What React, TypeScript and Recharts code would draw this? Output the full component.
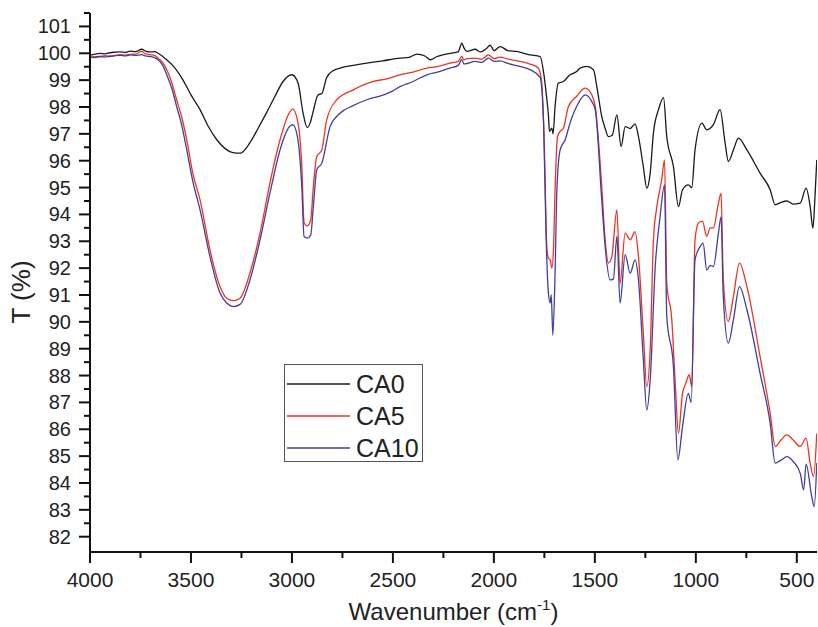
import { LineChart, Line, XAxis, YAxis, Legend, Label } from 'recharts';

// [wavenumber cm-1, transmittance %]
const ca0: [number, number][] = [
  [4000, 99.93], [3975, 99.97], [3950, 100.0], [3925, 99.98], [3901, 100.02], [3875, 100.04],
  [3851, 100.05], [3825, 100.03], [3802, 100.08], [3775, 100.06], [3744, 100.15], [3725, 100.08],
  [3703, 100.05], [3680, 100.06], [3663, 100.0], [3620, 99.76], [3579, 99.45], [3539, 99.0],
  [3500, 98.45], [3455, 97.9], [3416, 97.3], [3372, 96.78], [3331, 96.45], [3292, 96.3],
  [3257, 96.28], [3208, 96.67], [3168, 97.2], [3125, 97.8], [3084, 98.4], [3044, 98.95],
  [3001, 99.2], [2970, 98.9], [2945, 97.78], [2925, 97.24], [2910, 97.4], [2896, 97.8],
  [2871, 98.45], [2852, 98.5], [2828, 99.1], [2796, 99.35], [2762, 99.45], [2697, 99.55],
  [2630, 99.63], [2549, 99.72], [2465, 99.82], [2420, 99.85], [2382, 99.97], [2341, 99.9],
  [2316, 99.76], [2281, 99.88], [2217, 100.0], [2177, 100.05], [2159, 100.38], [2148, 100.2],
  [2134, 100.07], [2093, 100.15], [2068, 100.05], [2035, 100.19], [2019, 100.3], [1999, 100.1],
  [1969, 100.25], [1930, 100.1], [1887, 100.07], [1821, 99.94], [1771, 99.88], [1751, 99.14],
  [1738, 98.3], [1730, 97.7], [1725, 97.09], [1713, 97.21], [1707, 97.0], [1697, 98.02],
  [1681, 98.89], [1656, 98.95], [1623, 99.2], [1590, 99.32], [1573, 99.45], [1540, 99.51],
  [1507, 99.39], [1489, 98.7], [1466, 97.65], [1449, 97.2], [1433, 96.9], [1414, 96.95],
  [1391, 97.71], [1370, 96.53], [1350, 97.27], [1325, 97.2], [1301, 97.37], [1284, 96.9],
  [1260, 95.78], [1243, 94.98], [1226, 95.54], [1210, 97.03], [1185, 97.9], [1160, 98.35],
  [1144, 96.9], [1111, 95.78], [1086, 94.29], [1066, 94.92], [1037, 95.1], [1020, 95.0],
  [1004, 96.4], [970, 97.4], [946, 97.15], [913, 97.34], [880, 97.9], [855, 96.66],
  [839, 95.97], [814, 96.4], [789, 96.84], [747, 96.4], [682, 95.54], [632, 94.92],
  [607, 94.36], [578, 94.45], [549, 94.5], [518, 94.38], [483, 94.42], [454, 94.98],
  [434, 94.3], [420, 93.49], [411, 94.5], [401, 96.03],
];

const ca5: [number, number][] = [
  [4000, 99.86], [3975, 99.84], [3950, 99.88], [3925, 99.86], [3901, 99.9], [3875, 99.92],
  [3851, 99.95], [3825, 99.93], [3800, 99.96], [3775, 99.97], [3744, 100.07], [3725, 99.98],
  [3703, 99.95], [3680, 99.92], [3663, 99.82], [3640, 99.65], [3620, 99.39], [3595, 98.9],
  [3571, 98.27], [3545, 97.6], [3521, 96.78], [3490, 95.5], [3455, 94.54], [3406, 92.68],
  [3356, 91.31], [3323, 90.88], [3290, 90.79], [3257, 90.88], [3208, 91.82], [3158, 93.3],
  [3109, 95.17], [3059, 96.78], [3018, 97.71], [2996, 97.92], [2973, 97.52], [2951, 95.78],
  [2940, 93.69], [2924, 93.57], [2907, 93.8], [2894, 95.04], [2877, 96.16], [2852, 96.4],
  [2828, 97.52], [2778, 98.27], [2696, 98.64], [2597, 98.95], [2530, 99.05], [2465, 99.2],
  [2400, 99.3], [2332, 99.45], [2280, 99.5], [2217, 99.63], [2177, 99.7], [2159, 99.88],
  [2148, 99.75], [2134, 99.8], [2093, 99.82], [2060, 99.78], [2027, 99.94], [1999, 99.8],
  [1969, 99.86], [1930, 99.78], [1871, 99.7], [1821, 99.6], [1780, 99.45], [1763, 98.89],
  [1751, 96.78], [1738, 92.8], [1730, 92.37], [1721, 92.31], [1713, 92.0], [1705, 92.68],
  [1697, 94.92], [1685, 96.9], [1672, 97.09], [1656, 97.2], [1631, 98.02], [1590, 98.4],
  [1548, 98.7], [1515, 98.45], [1498, 98.02], [1466, 95.04], [1449, 93.05], [1433, 92.19],
  [1416, 92.43], [1391, 94.17], [1375, 91.44], [1350, 93.3], [1325, 93.05], [1301, 93.36],
  [1284, 92.43], [1260, 89.58], [1243, 87.59], [1226, 88.96], [1210, 93.05], [1193, 94.29],
  [1169, 95.29], [1155, 96.03], [1144, 91.44], [1119, 90.07], [1102, 87.72], [1086, 85.85],
  [1066, 87.34], [1049, 87.72], [1033, 88.03], [1020, 87.59], [1004, 93.05], [987, 93.68],
  [967, 93.74], [946, 93.18], [929, 93.5], [913, 93.5], [888, 94.42], [875, 94.79],
  [864, 91.56], [839, 90.01], [814, 90.94], [784, 92.19], [747, 91.31], [682, 88.71],
  [632, 86.6], [607, 85.36], [578, 85.6], [549, 85.79], [518, 85.6], [483, 85.36],
  [454, 85.67], [434, 84.74], [417, 84.24], [401, 85.85],
];

const ca10: [number, number][] = [
  [4000, 99.86], [3975, 99.87], [3950, 99.88], [3925, 99.9], [3901, 99.88], [3875, 99.91],
  [3851, 99.92], [3825, 99.9], [3800, 99.94], [3775, 99.92], [3744, 99.95], [3725, 99.9],
  [3703, 99.88], [3680, 99.84], [3663, 99.76], [3640, 99.55], [3620, 99.2], [3595, 98.7],
  [3571, 98.02], [3545, 97.3], [3521, 96.4], [3490, 95.2], [3455, 94.17], [3406, 92.43],
  [3356, 91.07], [3323, 90.7], [3290, 90.57], [3257, 90.65], [3208, 91.56], [3158, 93.05],
  [3109, 94.79], [3059, 96.4], [3018, 97.21], [2996, 97.34], [2973, 96.9], [2951, 95.0],
  [2940, 93.18], [2924, 93.12], [2907, 93.24], [2894, 94.29], [2877, 95.66], [2852, 95.91],
  [2811, 97.27], [2762, 97.77], [2697, 98.05], [2630, 98.27], [2547, 98.45], [2500, 98.6],
  [2465, 98.76], [2400, 98.95], [2332, 99.2], [2280, 99.3], [2217, 99.45], [2177, 99.55],
  [2159, 99.76], [2148, 99.6], [2134, 99.62], [2093, 99.7], [2060, 99.66], [2027, 99.82],
  [1999, 99.7], [1969, 99.72], [1930, 99.62], [1871, 99.51], [1821, 99.39], [1771, 99.1],
  [1754, 97.4], [1741, 93.05], [1730, 91.07], [1721, 90.7], [1716, 91.0], [1708, 89.5],
  [1697, 91.81], [1688, 94.92], [1672, 96.4], [1647, 96.78], [1623, 97.4], [1582, 98.14],
  [1548, 98.45], [1515, 98.2], [1498, 97.9], [1466, 94.54], [1449, 92.8], [1424, 91.56],
  [1408, 91.6], [1391, 93.18], [1375, 90.7], [1350, 92.5], [1325, 91.81], [1301, 92.31],
  [1284, 91.56], [1260, 88.59], [1243, 86.72], [1226, 87.84], [1201, 92.06], [1177, 93.92],
  [1155, 95.1], [1144, 90.2], [1111, 88.34], [1089, 84.86], [1066, 86.1], [1037, 87.34],
  [1023, 87.0], [1004, 92.31], [979, 92.8], [964, 92.93], [946, 91.93], [929, 92.1],
  [913, 92.06], [888, 93.3], [875, 93.92], [864, 90.94], [839, 89.21], [814, 90.07],
  [784, 91.31], [747, 90.45], [682, 88.09], [632, 86.23], [607, 84.74], [578, 84.85],
  [549, 84.98], [518, 84.8], [483, 84.36], [466, 83.74], [454, 84.7], [426, 83.49],
  [414, 83.12], [401, 84.74],
];

const xTicks = [4000, 3750, 3500, 3250, 3000, 2750, 2500, 2250, 2000, 1750, 1500, 1250, 1000, 750, 500];
const yTicks = [
  82, 82.5, 83, 83.5, 84, 84.5, 85, 85.5, 86, 86.5, 87, 87.5, 88, 88.5, 89, 89.5, 90, 90.5,
  91, 91.5, 92, 92.5, 93, 93.5, 94, 94.5, 95, 95.5, 96, 96.5, 97, 97.5, 98, 98.5, 99, 99.5,
  100, 100.5, 101, 101.5,
];

const series = [
  { name: 'CA0', points: ca0, color: '#1a1a1a' },
  { name: 'CA5', points: ca5, color: '#ee3322' },
  { name: 'CA10', points: ca10, color: '#3f3f9e' },
];

const FONT = '"Liberation Sans", Arial, sans-serif';
const INK = '#222';

function YTick(props: any) {
  const { x, y, payload } = props;
  const major = payload.value % 1 === 0;
  return (
    <g>
      <line x1={x} x2={x - (major ? 11 : 6)} y1={y} y2={y} stroke="#111" strokeWidth={2} />
      {major && (
        <text x={x - 19} y={y + 7} textAnchor="end" fontSize={20} fontFamily={FONT} fill={INK}>
          {payload.value}
        </text>
      )}
    </g>
  );
}

function XTick(props: any) {
  const { x, y, payload } = props;
  const major = payload.value % 500 === 0;
  return (
    <g>
      <line x1={x} x2={x} y1={y} y2={y + (major ? 11 : 6)} stroke="#111" strokeWidth={2} />
      {major && (
        <text x={x} y={y + 35} textAnchor="middle" fontSize={21} fontFamily={FONT} fill={INK}>
          {payload.value}
        </text>
      )}
    </g>
  );
}

function LegendBox() {
  return (
    <div
      style={{
        position: 'relative',
        width: 139,
        height: 98,
        boxSizing: 'border-box',
        border: '1.5px solid #555',
        background: '#fff',
        fontFamily: FONT,
        fontSize: 25,
        color: INK,
      }}
    >
      {series.map((s, i) => (
        <div key={s.name} style={{ position: 'absolute', left: 0, top: 4 + i * 32, height: 30, width: 137 }}>
          <svg width={66} height={30} style={{ position: 'absolute', left: 0, top: 0 }}>
            <line x1={2} x2={65} y1={15} y2={15} stroke={s.color} strokeWidth={1.5} />
          </svg>
          <span style={{ position: 'absolute', left: 71, top: 0, lineHeight: '30px' }}>{s.name}</span>
        </div>
      ))}
    </div>
  );
}

export default function App() {
  return (
    <div style={{ position: 'absolute', left: 0, top: 0, background: '#fff' }}>
      <LineChart width={818} height={627} margin={{ top: 13, right: 1, bottom: 15, left: 10 }}>
        <XAxis
          type="number"
          dataKey="w"
          domain={[400, 4000]}
          reversed
          allowDataOverflow
          ticks={xTicks}
          interval={0}
          tick={(p: any) => <XTick {...p} />}
          tickLine={false}
          tickSize={0}
          tickMargin={0}
          height={60}
          axisLine={{ stroke: '#111', strokeWidth: 2 }}
        >
          <Label
            content={(p: any) => {
              const vb = p.viewBox;
              return (
                <text
                  x={vb.x + vb.width / 2}
                  y={620}
                  textAnchor="middle"
                  fontSize={24}
                  fontFamily={FONT}
                  fill={INK}
                >
                  Wavenumber (cm
                  <tspan fontSize={15} dy={-10}>-1</tspan>
                  <tspan dy={10}>)</tspan>
                </text>
              );
            }}
          />
        </XAxis>
        <YAxis
          type="number"
          domain={[81.43, 101.5]}
          allowDataOverflow
          ticks={yTicks}
          interval={0}
          tick={(p: any) => <YTick {...p} />}
          tickLine={false}
          tickSize={0}
          tickMargin={0}
          width={80}
          axisLine={{ stroke: '#111', strokeWidth: 2 }}
        >
          <Label
            content={() => (
              <text
                x={30}
                y={292}
                transform="rotate(-90 30 292)"
                textAnchor="middle"
                fontSize={26}
                fontFamily={FONT}
                fill={INK}
              >
                T (%)
              </text>
            )}
          />
        </YAxis>
        <Legend
          layout="vertical"
          align="center"
          verticalAlign="middle"
          wrapperStyle={{ left: 284, top: 364, width: 139, height: 98 }}
          content={() => <LegendBox />}
        />
        {series.map((s) => (
          <Line
            key={s.name}
            name={s.name}
            data={s.points.map(([w, t]) => ({ w, t }))}
            dataKey="t"
            type="monotone"
            stroke={s.color}
            strokeWidth={1.3}
            dot={false}
            activeDot={false}
            isAnimationActive={false}
          />
        ))}
      </LineChart>
    </div>
  );
}
